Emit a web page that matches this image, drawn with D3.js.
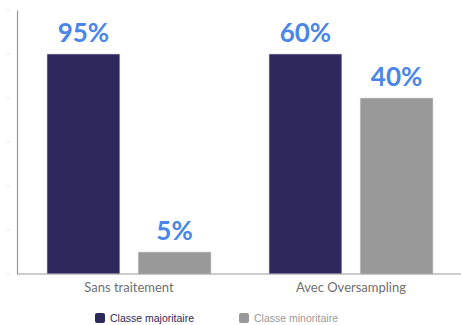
<!DOCTYPE html>
<html>
<head>
<meta charset="utf-8">
<script src="https://cdn.jsdelivr.net/npm/d3@7"></script>
<style>
  html, body { margin: 0; padding: 0; background: #fff; }
  svg { display: block; }
</style>
</head>
<body>
<svg id="chart" width="461" height="325"></svg>
<script>
// Répartition des classes avant / après oversampling
const categories = ["Sans traitement", "Avec Oversampling"];
const seriesNames = ["Classe majoritaire", "Classe minoritaire"];
const majorityValues = [95, 60];
const minorityValues = [5, 40];
const seriesColors = ["#2e295c", "#999999"];

const width = 461, height = 325;
const margin = { left: 18, right: -1, top: 10, bottom: 51 };
const baseY = height - margin.bottom;

const svg = d3.select("#chart");

const x0 = d3.scaleBand()
  .domain(categories)
  .range([margin.left, width - margin.right])
  .paddingInner(0)
  .paddingOuter(0);

const x1 = d3.scaleBand()
  .domain(seriesNames)
  .range([29, x0.bandwidth() - 29])
  .paddingInner(0.2);

// Axis scale spans the whole plot height; bar scale is capped at 50 %
const yAxisScale = d3.scaleLinear().domain([0, 60]).range([baseY, margin.top]);
const y = d3.scaleLinear().domain([0, 50]).range([baseY, yAxisScale(50)]).clamp(true);

// left axis: faint tick marks, no labels
const axis = svg.append("g")
  .attr("transform", `translate(${margin.left - 1},0)`)
  .call(d3.axisLeft(yAxisScale).tickValues(d3.range(0, 61, 10)).tickSize(0).tickFormat(""));
axis.select(".domain").attr("stroke", "#9a9a9a").attr("stroke-width", 1.2);

svg.append("g")
  .selectAll("line")
  .data(d3.range(0, 61, 10))
  .join("line")
  .attr("x1", 7).attr("x2", 10)
  .attr("y1", d => yAxisScale(d)).attr("y2", d => yAxisScale(d))
  .attr("stroke", "#e2e2e2").attr("stroke-width", 1);

const rows = categories.map((c, i) => ({
  category: c,
  values: [
    { series: seriesNames[0], value: majorityValues[i] },
    { series: seriesNames[1], value: minorityValues[i] }
  ]
}));

const groups = svg.append("g")
  .selectAll("g")
  .data(rows)
  .join("g")
  .attr("transform", d => `translate(${x0(d.category)},0)`);

groups.selectAll("rect")
  .data(d => d.values)
  .join("rect")
  .attr("x", d => x1(d.series))
  .attr("width", x1.bandwidth())
  .attr("y", d => y(d.value))
  .attr("height", d => baseY - y(d.value))
  .attr("fill", (d, i) => seriesColors[i])
  .attr("stroke", "#d8d8e0")
  .attr("stroke-width", 0.6);

groups.selectAll("text.value")
  .data(d => d.values)
  .join("text")
  .attr("class", "value")
  .attr("x", d => x1(d.series) + x1.bandwidth() / 2)
  .attr("y", d => y(d.value) - 12)
  .attr("text-anchor", "middle")
  .attr("font-family", "Lato, 'Open Sans', sans-serif")
  .attr("font-weight", "bold")
  .attr("font-size", 26)
  .attr("fill", "#4a86e8")
  .text(d => d.value + "%");

// baseline
svg.append("line")
  .attr("x1", margin.left - 1).attr("x2", width)
  .attr("y1", baseY).attr("y2", baseY)
  .attr("stroke", "#9a9a9a").attr("stroke-width", 1.2);

// category labels
svg.append("g")
  .selectAll("text")
  .data(categories)
  .join("text")
  .attr("x", d => x0(d) + x0.bandwidth() / 2)
  .attr("y", baseY + 18)
  .attr("text-anchor", "middle")
  .attr("font-family", "Lato, sans-serif")
  .attr("font-size", 13)
  .attr("fill", "#707070")
  .text(d => d);

// legend
const legendX = [95, 239];
const legendTextColors = ["#2e295c", "#999999"];
const legend = svg.append("g")
  .selectAll("g")
  .data(seriesNames)
  .join("g")
  .attr("transform", (d, i) => `translate(${legendX[i]},313)`);

legend.append("rect")
  .attr("width", 10).attr("height", 10).attr("rx", 2)
  .attr("fill", (d, i) => seriesColors[i]);

legend.append("text")
  .attr("x", 15).attr("y", 9)
  .attr("font-family", "'Liberation Sans', Arial, sans-serif")
  .attr("font-size", 10.5)
  .attr("fill", (d, i) => legendTextColors[i])
  .text(d => d);
</script>
</body>
</html>
